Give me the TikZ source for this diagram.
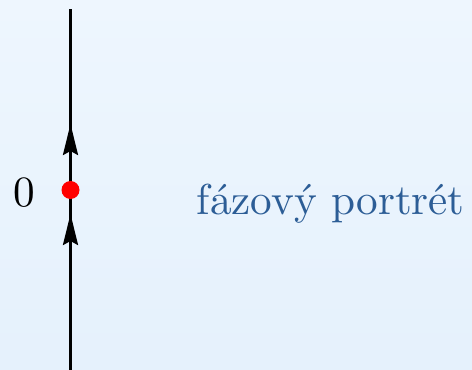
\documentclass[tikz,border=0pt]{standalone}
\usetikzlibrary{arrows.meta}
\definecolor{bgtop}{HTML}{EEF6FE}
\definecolor{bgbot}{HTML}{E5F1FC}
\definecolor{labblue}{HTML}{2C5D96}
\begin{document}
\begin{tikzpicture}[x=1pt,y=1pt,
  axisline/.style={line width=2.8pt,black},
  tipstyle/.style={-{Stealth[length=31pt,width=15pt,inset=4pt]},line width=2.8pt},
  bigtext/.style={font=\fontsize{10}{12}\selectfont,scale=4.32,inner sep=0pt}]
\shade[top color=bgtop,bottom color=bgbot] (0,0) rectangle (472,370);
\useasboundingbox (0,0) rectangle (472,370);
\coordinate (bot) at (70.5,0);
\coordinate (top) at (70.5,361);
\coordinate (tipa) at (70.5,246);
\coordinate (tipb) at (70.5,156);
\draw[axisline] (bot) -- (top);
\draw[tipstyle] (70.5,200) -- (tipa);
\draw[tipstyle] (70.5,110) -- (tipb);
\fill[red] (70.5,180) circle (9);
\node[bigtext,anchor=base] (zero) at (24,163) {0};
\node[bigtext,anchor=base west,text=labblue] (lab) at (196,155) {fázový portrét};
\end{tikzpicture}
\end{document}
